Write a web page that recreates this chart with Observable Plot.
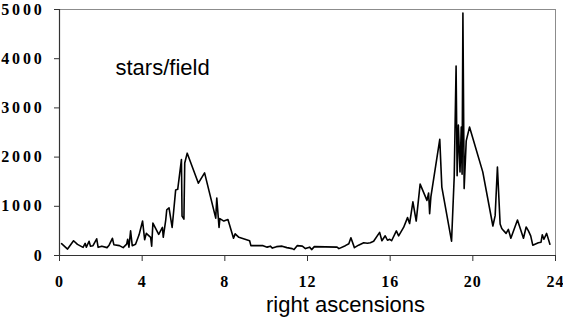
<!DOCTYPE html>
<html><head><meta charset="utf-8">
<script src="https://cdn.jsdelivr.net/npm/d3@7"></script>
<script src="https://cdn.jsdelivr.net/npm/@observablehq/plot@0.6"></script>
<style>
body{margin:0;background:#fff}
#chart svg g[aria-label="y-axis tick label"] text{letter-spacing:2.8px}
#chart svg g[aria-label="x-axis tick label"] text{letter-spacing:1px}
</style>
</head><body><div id="chart"></div><script>
const ra = [0.1,0.39,0.68,0.87,1.14,1.24,1.3,1.43,1.5,1.62,1.8,1.87,2.05,2.3,2.4,2.56,2.63,2.9,3.08,3.25,3.3,3.36,3.44,3.52,3.68,3.85,4.02,4.12,4.2,4.41,4.46,4.52,4.8,4.98,5.02,5.14,5.19,5.3,5.45,5.62,5.72,5.9,5.93,6.02,6.06,6.18,6.72,7.02,7.56,7.61,7.72,7.76,7.95,8.15,8.42,8.5,8.68,9.2,9.26,9.85,10.05,10.2,10.3,10.5,10.77,11.0,11.26,11.35,11.5,11.75,11.9,12.1,12.2,12.33,13.43,13.52,13.83,14.0,14.1,14.27,14.47,14.72,14.9,15.04,15.2,15.49,15.6,15.76,15.87,15.98,16.07,16.3,16.41,16.65,16.84,16.94,17.1,17.26,17.45,17.78,17.86,17.91,17.97,18.4,18.5,18.97,19.1,19.19,19.24,19.3,19.38,19.44,19.48,19.52,19.58,19.68,19.84,20.48,20.97,21.08,21.19,21.32,21.4,21.5,21.61,21.72,21.84,22.16,22.45,22.58,22.69,22.8,22.9,23.17,23.3,23.36,23.44,23.57,23.73];
const stars = [240,131,300,227,166,247,170,290,190,200,340,166,190,160,210,350,220,200,160,230,330,170,500,200,230,420,700,320,450,370,190,660,430,570,370,720,930,970,570,1330,1345,1950,800,740,1880,2080,1470,1680,760,1170,570,750,700,730,350,440,370,300,200,200,170,190,150,180,190,160,140,120,200,190,140,170,120,180,170,140,200,240,360,160,210,260,250,260,290,470,300,400,310,330,300,500,400,570,770,650,1090,700,1450,1120,1270,850,1190,2360,1390,290,1610,3850,1620,2650,1700,2610,1650,4930,1360,2330,2610,1700,600,810,1800,640,550,500,450,530,350,720,350,580,500,400,210,260,270,420,330,450,230];
const xTicks = [0,4,8,12,16,20,24];
const yTicks = [0,1000,2000,3000,4000,5000];
const titleText = "stars/field";
const xLabel = "right ascensions";

const data = ra.map((r, i) => ({ra: r, stars: stars[i]}));
const serif = "'Liberation Serif','Times New Roman',serif";
const sans = "'Liberation Sans',Arial,sans-serif";

const chart = Plot.plot({
  width: 563, height: 321,
  marginLeft: 59, marginRight: 8, marginTop: 9, marginBottom: 66,
  x: {domain: [0, 24]},
  y: {domain: [0, 5000]},
  style: {background: "white", color: "black"},
  marks: [
    Plot.frame({stroke: "#8c8c8c", strokeWidth: 1}),
    Plot.axisY(yTicks, {tickSize: 5, tickPadding: 10, label: null, tickFormat: d => String(d),
      fontSize: 16, fontWeight: "bold", fontFamily: serif, stroke: "#333"}),
    Plot.axisX(xTicks, {tickSize: 6, tickPadding: 14, label: null, tickFormat: d => String(d),
      fontSize: 16, fontWeight: "bold", fontFamily: serif, stroke: "#333"}),
    Plot.ruleX([0], {stroke: "#333", strokeWidth: 1.2}),
    Plot.ruleY([0], {stroke: "#333", strokeWidth: 1.2}),
    Plot.line(data, {x: "ra", y: "stars", stroke: "black", strokeWidth: 1.6}),
    Plot.text([titleText], {frameAnchor: "top-left", text: d => d, dx: 56, dy: 50,
      textAnchor: "start", fontSize: 22, fontFamily: sans, fill: "black"}),
    Plot.text([xLabel], {frameAnchor: "bottom", text: d => d, dx: 38, dy: 56,
      fontSize: 22, fontFamily: sans, fill: "black"})
  ]
});
document.getElementById("chart").append(chart);
</script></body></html>
